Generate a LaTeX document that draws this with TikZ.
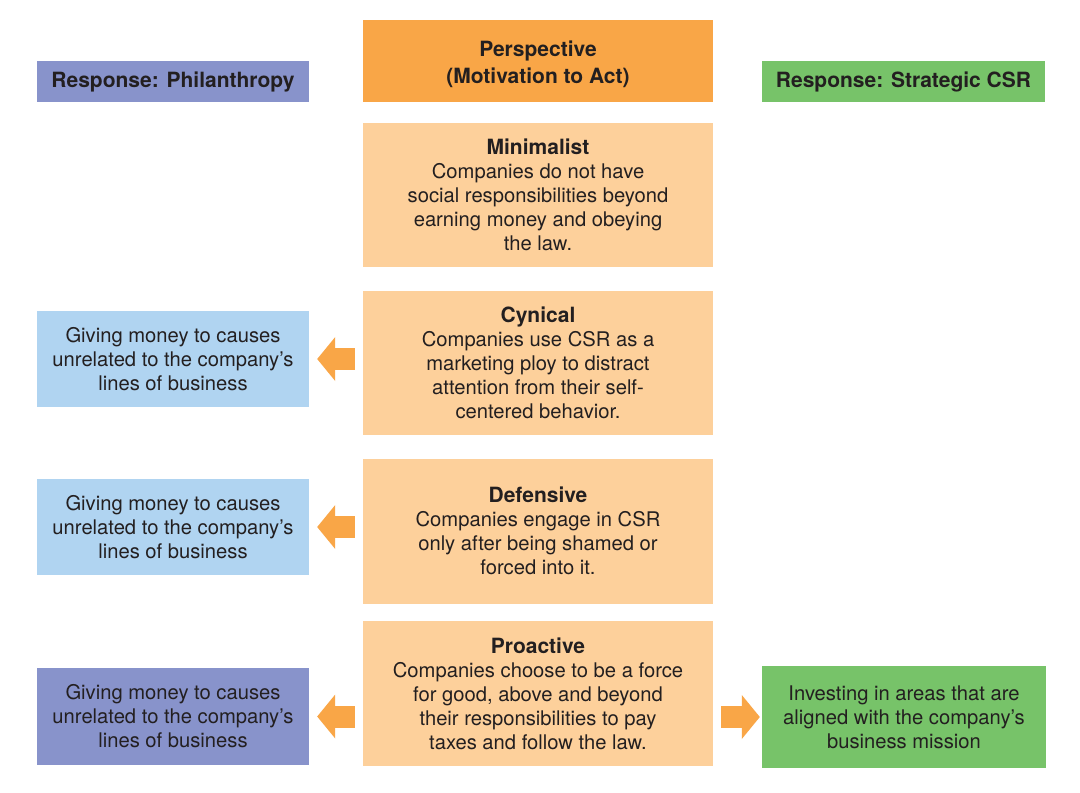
\documentclass[tikz,border=0pt]{standalone}
\usepackage{fontspec}
\setmainfont{TeX Gyre Heros}
\usetikzlibrary{arrows.meta,calc}
\definecolor{darkor}{HTML}{F9A647}
\definecolor{lightor}{HTML}{FDD09B}
\definecolor{lblue}{HTML}{B0D4F1}
\definecolor{purp}{HTML}{8893CB}
\definecolor{grn}{HTML}{77C369}
\definecolor{txt}{HTML}{231F20}
\begin{document}
\begin{tikzpicture}[x=1pt,y=-1pt,
  box/.style={rectangle, inner sep=0pt, align=center, text=txt,
    font={\fontsize{20.2}{24}\selectfont}},
  hdr/.style={box, font={\fontsize{21}{27}\selectfont\bfseries}},
  center/.style={box, fill=lightor, minimum width=350pt},
  side/.style={box, minimum width=272pt},
  blockarrow/.style={draw=darkor, line width=22pt,
    -{Triangle[length=18pt,width=44pt,line width=0pt]}}
]
\useasboundingbox (0,0) rectangle (1080,793);
\fill[white] (0,0) rectangle (1080,793);

% headers
\node[hdr, fill=purp, minimum width=272pt, minimum height=41pt] (ph) at (173,81.5) {Response: Philanthropy};
\node[hdr, fill=darkor, minimum width=350pt, minimum height=82pt] (persp) at (538,61) {\rule{0pt}{23pt}Perspective\\(Motivation to Act)};
\node[hdr, fill=grn, minimum width=283pt, minimum height=41pt] (csr) at (903.5,81.5) {Response: Strategic CSR};

% center column
\node[center, minimum height=144pt] (mini) at (538,195) {{\fontsize{21}{24}\selectfont\bfseries Minimalist}\\Companies do not have\\social responsibilities beyond\\earning money and obeying\\the law.};
\node[center, minimum height=144pt] (cyn) at (538,363) {{\fontsize{21}{24}\selectfont\bfseries Cynical}\\Companies use CSR as a\\marketing ploy to distract\\attention from their self-\\centered behavior.};
\node[center, minimum height=145pt] (def) at (538,531) {{\fontsize{21}{24}\selectfont\bfseries Defensive}\\Companies engage in CSR\\only after being shamed or\\forced into it.};
\node[center, minimum height=145pt] (pro) at (538,693.5) {{\fontsize{21}{24}\selectfont\bfseries Proactive}\\Companies choose to be a force\\for good, above and beyond\\their responsibilities to pay\\taxes and follow the law.};

% left column
\node[side, fill=lblue, minimum height=96pt] (b1) at (173,359) {Giving money to causes\\unrelated to the company’s\\lines of business};
\node[side, fill=lblue, minimum height=96pt] (b2) at (173,527) {Giving money to causes\\unrelated to the company’s\\lines of business};
\node[side, fill=purp, minimum height=97pt] (b3) at (173,716.5) {Giving money to causes\\unrelated to the company’s\\lines of business};

% right column
\node[box, fill=grn, minimum width=284pt, minimum height=102pt] (g1) at (904,717) {Investing in areas that are\\aligned with the company’s\\business mission};

% arrows
\draw[blockarrow] ($(cyn.west |- b1.east)+(-8,0)$) -- ($(b1.east)+(8,0)$);
\draw[blockarrow] ($(def.west |- b2.east)+(-8,0)$) -- ($(b2.east)+(8,0)$);
\draw[blockarrow] ($(pro.west |- b3.east)+(-8,0)$) -- ($(b3.east)+(8,0)$);
\draw[blockarrow] ($(pro.east |- g1.west)+(8,0)$) -- ($(g1.west)+(-2,0)$);
\end{tikzpicture}
\end{document}
